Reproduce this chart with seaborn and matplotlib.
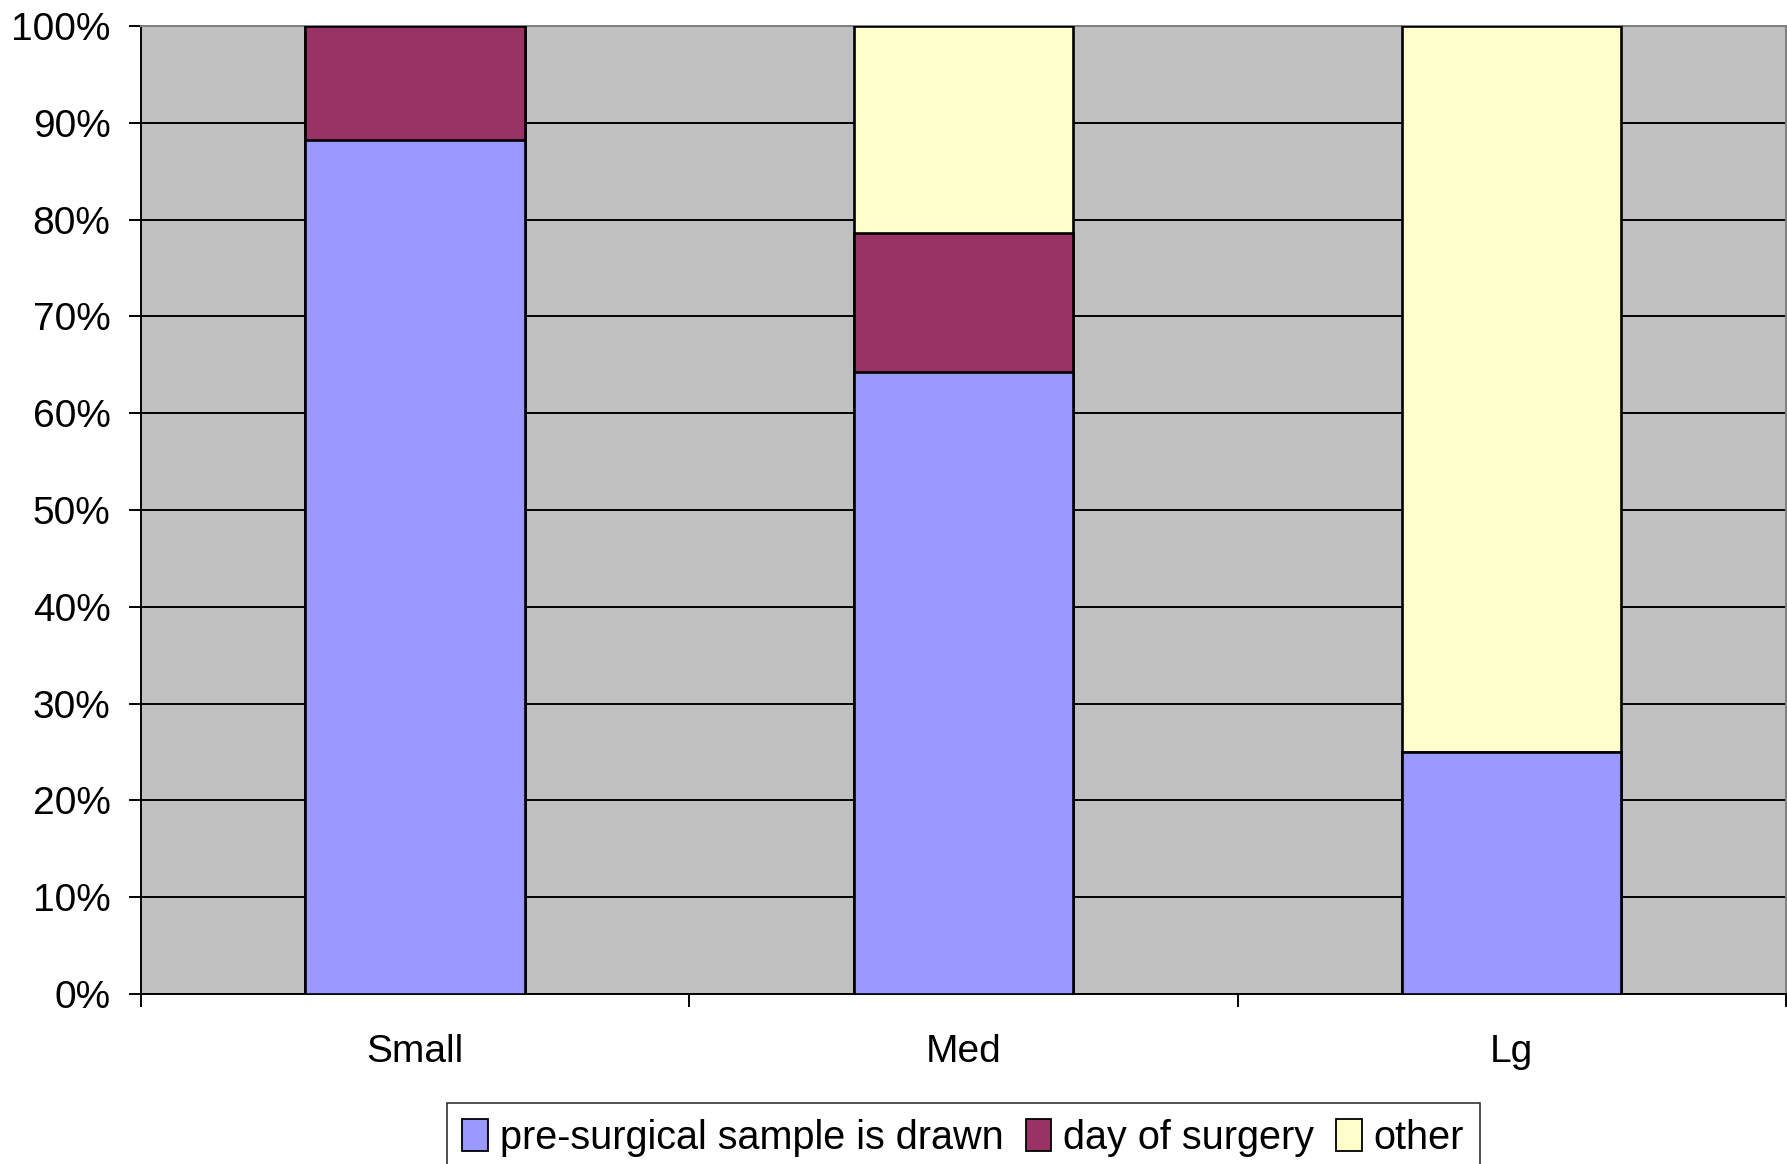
import pandas as pd
import seaborn as sns
import matplotlib.pyplot as plt
from matplotlib.patches import Patch

# values (percent of cases)
sizes = ["Small", "Med", "Lg"]
presurgical = [88.2, 64.3, 25.0]
day_of_surgery = [11.8, 14.3, 0.0]
other = [0.0, 21.4, 75.0]
y_ticks = [0, 10, 20, 30, 40, 50, 60, 70, 80, 90, 100]

series_names = ["pre-surgical sample is drawn", "day of surgery", "other"]
colors = ["#9999FF", "#993366", "#FFFFCC"]

df = pd.DataFrame({"size": sizes, "pre": presurgical, "day": day_of_surgery, "other": other})
df["cum_pre"] = df["pre"]
df["cum_day"] = df["pre"] + df["day"]
df["cum_other"] = df["cum_day"] + df["other"]

sns.set_theme(style="white")
plt.rcParams["font.family"] = ["Liberation Sans", "DejaVu Sans"]
plt.rcParams["text.color"] = "black"
plt.rcParams["xtick.color"] = "black"
plt.rcParams["ytick.color"] = "black"

fig = plt.figure(figsize=(17.87, 11.64), dpi=100)
ax = fig.add_axes([0.0789, 0.146, 0.9205, 0.8317])
ax.set_facecolor("#C0C0C0")

# stacked bars: draw cumulative totals back to front
for col, c in zip(["cum_other", "cum_day", "cum_pre"], colors[::-1]):
    sns.barplot(data=df, x="size", y=col, color=c, width=0.4, ax=ax,
                edgecolor="black", linewidth=1.9, saturation=1, zorder=3)

ax.set_ylim(0, 100)
ax.set_xlim(-0.5, 2.5)
ax.set_yticks(y_ticks)
ax.set_yticklabels([f"{v}%" for v in y_ticks])
ax.yaxis.grid(True, color="black", linewidth=1.4, zorder=0)
ax.set_axisbelow(True)

# x ticks at the category boundaries, labels centred on the bars
ax.set_xticks([-0.5, 0.5, 1.5, 2.5])
ax.set_xticklabels([])
ax.set_xticks([0, 1, 2], minor=True)
ax.set_xticklabels(sizes, minor=True)
ax.tick_params(axis="x", which="major", length=9, width=1.4, color="black", direction="out", bottom=True)
ax.tick_params(axis="x", which="minor", length=0, pad=29, labelsize=28, labelcolor="black")
ax.tick_params(axis="y", length=9, width=1.4, color="black", direction="out", left=True, pad=13,
               labelsize=28, labelcolor="black")
ax.set_xlabel("")
ax.set_ylabel("")

for side in ["left", "bottom"]:
    ax.spines[side].set_color("black")
    ax.spines[side].set_linewidth(1.4)
for side in ["top", "right"]:
    ax.spines[side].set_color("#808080")
    ax.spines[side].set_linewidth(1.4)

handles = [Patch(facecolor=c, edgecolor="black", linewidth=1.3) for c in colors]
leg = fig.legend(handles, series_names, loc="upper center", bbox_to_anchor=(0.539, 0.0525),
                 ncol=3, fontsize=28.5, frameon=True, fancybox=False, edgecolor="black",
                 handlelength=0.65, handleheight=0.85, handletextpad=0.3, columnspacing=0.55,
                 borderpad=0.4, borderaxespad=0)
leg.get_frame().set_linewidth(1.2)

fig.savefig("out.png", dpi=100, facecolor="white")
